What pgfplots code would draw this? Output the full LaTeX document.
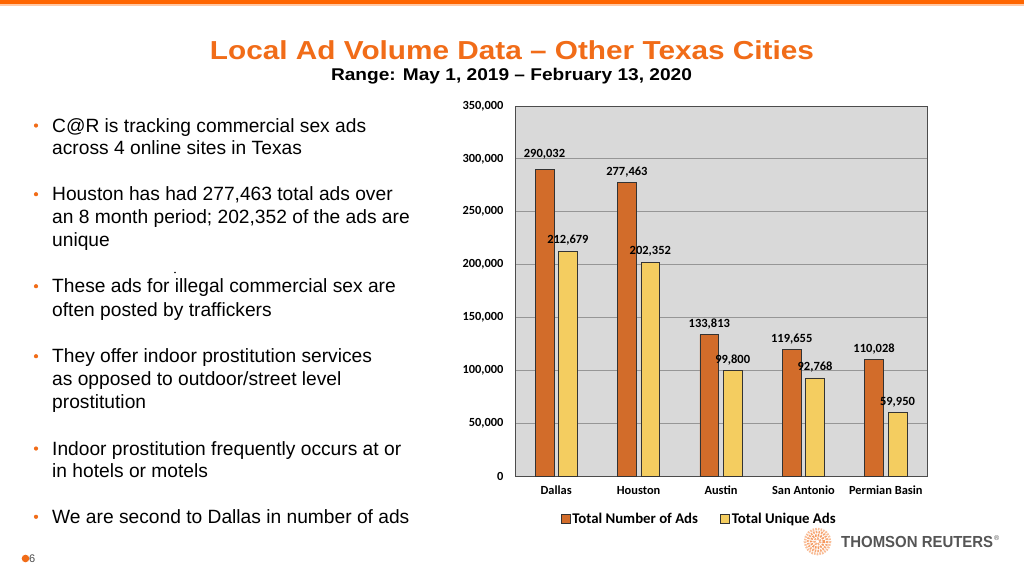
\documentclass[border=0pt]{standalone}
\usepackage{pgfplots}
\pgfplotsset{compat=1.18}
\usepackage{graphicx}
\usepackage{fontspec}
\setmainfont{Liberation Sans}
\newfontfamily\chartfont{Carlito}

\definecolor{slideorange}{RGB}{241,108,24}
\definecolor{topband}{RGB}{255,102,0}
\definecolor{barorange}{RGB}{210,108,42}
\definecolor{baryellow}{RGB}{244,205,96}
\definecolor{plotgray}{RGB}{217,217,217}
\definecolor{gridgray}{RGB}{150,150,150}
\definecolor{logogray}{RGB}{85,85,85}

% one line of bullet text, baseline at image y
\newcommand{\bline}[2]{\node[anchor=base west,inner sep=0pt,font=\fontsize{19.2}{22}\selectfont] at (52,#1) {#2};}
\newcommand{\bdot}[1]{\fill[slideorange] (36,#1-6.5) circle (2.1);}

\begin{document}
\begin{tikzpicture}
\begin{scope}[x=1pt,y=-1pt]
  \fill[white] (0,0) rectangle (1024,576);
  \useasboundingbox (0,0) rectangle (1024,576);
  \fill[topband] (0,0) rectangle (1024,4);
  \fill[topband!35] (0,4) rectangle (1024,6);

  % title
  \node[anchor=base,inner sep=0pt,text=slideorange] at (512,59)
    {\resizebox{604pt}{\height}{\fontsize{26}{28}\selectfont\bfseries Local Ad Volume Data – Other Texas Cities}};
  \node[anchor=base,inner sep=0pt] at (511.5,80.5)
    {\resizebox{361pt}{\height}{\fontsize{17}{18}\selectfont\bfseries Range: May 1, 2019 – February 13, 2020}};

  % bullets
  \bdot{132}\bline{132}{C@R is tracking commercial sex ads}
  \bline{154.5}{across 4 online sites in Texas}
  \bdot{200.7}\bline{200.7}{Houston has had 277,463 total ads over}
  \bline{223.3}{an 8 month period; 202,352 of the ads are}
  \bline{246.5}{unique}
  \fill (175,272.5) circle (0.9);
  \bdot{292.7}\bline{292.7}{These ads for illegal commercial sex are}
  \bline{316}{often posted by traffickers}
  \bdot{362.7}\bline{362.7}{They offer indoor prostitution services}
  \bline{385}{as opposed to outdoor/street level}
  \bline{408.3}{prostitution}
  \bdot{455}\bline{455}{Indoor prostitution frequently occurs at or}
  \bline{477.3}{in hotels or motels}
  \bdot{523.3}\bline{523.3}{We are second to Dallas in number of ads}

  % page number
  \fill[slideorange] (25.5,558.5) circle (3.8);
  \node[anchor=base west,inner sep=0pt,font=\fontsize{11}{12}\selectfont,text=black!70] at (29,562.5) {6};

  % logo
  \foreach \r/\c in {3/55,6.3/70,9.6/60,12.6/45}
    \draw[slideorange!\c, line width=2.4pt, dash pattern=on 1.6pt off 1.1pt] (817.5,541.5) circle (\r);
  \node[anchor=base west,inner sep=0pt,text=logogray] at (841,547.5)
    {\resizebox{152pt}{\height}{\fontsize{16}{18}\selectfont\bfseries THOMSON REUTERS}};
  \node[anchor=base west,inner sep=0pt,text=logogray,font=\fontsize{7}{8}\selectfont] at (994,540) {®};
\end{scope}

\begin{axis}[
  at={(515pt,-476pt)}, anchor=south west,
  scale only axis, width=412pt, height=370pt,
  ybar=4.7pt, bar width=18.7pt,
  xmin=-0.5, xmax=4.5, ymin=0, ymax=350000,
  xtick=data,
  xticklabels={Dallas,Houston,Austin,San Antonio,Permian Basin},
  ytick={0,50000,100000,150000,200000,250000,300000,350000},
  scaled y ticks=false,
  /pgf/number format/.cd, fixed, precision=0, 1000 sep={,}, assume math mode=true,
  /pgfplots/.cd,
  ymajorgrids, grid style={gridgray, line width=0.8pt},
  major tick length=0pt,
  axis background/.style={fill=plotgray},
  axis line style={black!70, line width=0.8pt},
  tick label style={font=\chartfont\bfseries\fontsize{12.4}{14}\selectfont},
  yticklabel style={xshift=-8pt},
  xticklabel style={yshift=-7pt, text height=1.6ex, text depth=0.3ex},
  nodes near coords,
  visualization depends on={\thisrow{dy}\as\dy},
  every node near coord/.append style={font=\chartfont\bfseries\fontsize{12.5}{14}\selectfont, text=black, yshift=\dy pt},
  legend style={at={(0.447,-0.116)}, anchor=center, draw=none, fill=none,
    legend columns=2, font=\chartfont\bfseries\fontsize{14.8}{16}\selectfont,
    /tikz/every even column/.append style={column sep=20pt}},
  legend image code/.code={\draw[#1] (0pt,-4.5pt) rectangle (9pt,4.5pt);},
]
\addplot[fill=barorange, draw=black!80, line width=0.7pt]
  table[x=x, y=y] {
  x y      dy
  0 290032 7
  1 277463 2
  2 133813 2
  3 119655 2
  4 110028 2
  };
\addplot[fill=baryellow, draw=black!80, line width=0.7pt]
  table[x=x, y=y] {
  x y      dy
  0 212679 2
  1 202352 2
  2 99800  2
  3 92768  2
  4 59950  2
  };
\legend{Total Number of Ads, Total Unique Ads}
\end{axis}
\end{tikzpicture}
\end{document}
